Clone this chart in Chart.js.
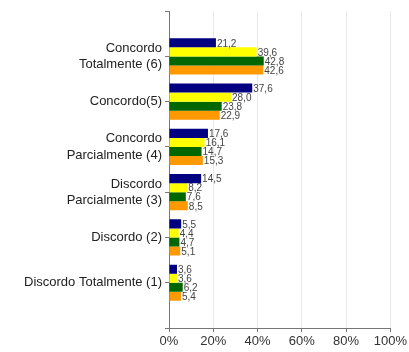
<!DOCTYPE html>
<html lang="pt">
<head>
    <meta charset="UTF-8">
    <title>Concordância</title>
    <script src="https://cdn.jsdelivr.net/npm/chart.js"></script>
    <style>
        html, body { margin: 0; padding: 0; background: #fff; }
        #wrap { width: 409px; height: 352px; }
    </style>
</head>
<body>
    <div id="wrap"><canvas id="likertChart"></canvas></div>
    <script>
        // categorias (de cima para baixo)
        var categories = [
            ['Concordo', 'Totalmente (6)'],
            'Concordo(5)',
            ['Concordo', 'Parcialmente (4)'],
            ['Discordo', 'Parcialmente (3)'],
            'Discordo (2)',
            'Discordo Totalmente (1)'
        ];
        var serieAzul    = [21.2, 37.6, 17.6, 14.5, 5.5, 3.6];
        var serieAmarela = [39.6, 28.0, 16.1, 8.2, 4.4, 3.6];
        var serieVerde   = [42.8, 23.8, 14.7, 7.6, 4.7, 6.2];
        var serieLaranja = [42.6, 22.9, 15.3, 8.5, 5.1, 5.4];
        var xTicks = [0, 20, 40, 60, 80, 100];

        // blank slot at each end so the groups sit away from the axis ends
        function pad(arr, blank) { return [blank].concat(arr, [blank]); }

        var valueLabels = {
            id: 'valueLabels',
            afterDatasetsDraw: function(chart) {
                var ctx = chart.ctx;
                ctx.save();
                ctx.font = '10px "Liberation Sans", Arial, sans-serif';
                ctx.fillStyle = '#444';
                ctx.textAlign = 'left';
                ctx.textBaseline = 'middle';
                chart.data.datasets.forEach(function(ds, i) {
                    chart.getDatasetMeta(i).data.forEach(function(bar, j) {
                        var v = ds.data[j];
                        if (v === null) return;
                        ctx.fillText(v.toFixed(1).replace('.', ','), bar.x + 1, bar.y + 1);
                    });
                });
                ctx.restore();
            }
        };

        new Chart(document.getElementById('likertChart'), {
            type: 'bar',
            data: {
                labels: pad(categories, ''),
                datasets: [
                    { data: pad(serieAzul, null),    backgroundColor: '#000080' },
                    { data: pad(serieAmarela, null), backgroundColor: '#ffff00' },
                    { data: pad(serieVerde, null),   backgroundColor: '#006600' },
                    { data: pad(serieLaranja, null), backgroundColor: '#ff9900' }
                ]
            },
            options: {
                indexAxis: 'y',
                responsive: true,
                maintainAspectRatio: false,
                animation: false,
                categoryPercentage: 0.8,
                barPercentage: 1.0,
                layout: { padding: { top: 5, right: 18, bottom: 0, left: 0 } },
                plugins: {
                    legend: { display: false },
                    tooltip: { enabled: false }
                },
                scales: {
                    x: {
                        min: 0,
                        max: 100,
                        afterBuildTicks: function(axis) {
                            axis.ticks = xTicks.map(function(v) { return { value: v }; });
                        },
                        ticks: {
                            callback: function(v) { return v + '%'; },
                            color: '#333',
                            padding: 2,
                            maxRotation: 0,
                            font: { family: '"Liberation Sans", Arial, sans-serif', size: 13 }
                        },
                        grid: { color: '#e8e8e8', tickColor: '#777', tickLength: 4 },
                        border: { color: '#777' },
                        afterFit: function(axis) { axis.height = 24; }
                    },
                    y: {
                        offset: false,
                        ticks: {
                            color: '#222',
                            padding: 3,
                            autoSkip: false,
                            font: { family: '"Liberation Sans", Arial, sans-serif', size: 13, lineHeight: 1.25 }
                        },
                        grid: { offset: false, drawOnChartArea: false, tickColor: '#777', tickLength: 4 },
                        border: { color: '#777' },
                        afterFit: function(axis) { axis.width = 169; }
                    }
                }
            },
            plugins: [valueLabels]
        });
    </script>
</body>
</html>
